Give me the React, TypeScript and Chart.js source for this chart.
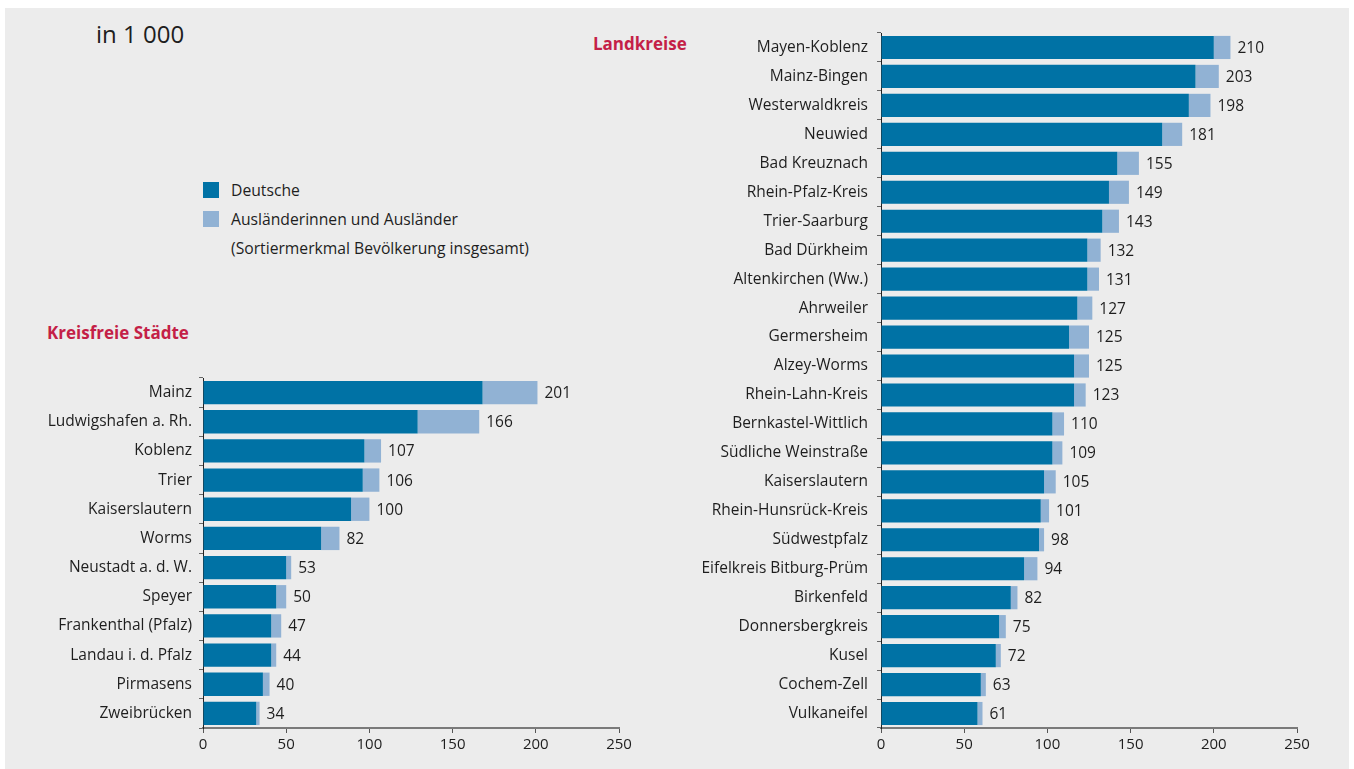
import React, { useEffect, useRef } from "react";
import { Chart, registerables } from "chart.js";

Chart.register(...registerables);

const staedte = [
  "Mainz", "Ludwigshafen a. Rh.", "Koblenz", "Trier", "Kaiserslautern", "Worms",
  "Neustadt a. d. W.", "Speyer", "Frankenthal (Pfalz)", "Landau i. d. Pfalz", "Pirmasens", "Zweibrücken",
];
const staedteDeutsche = [168, 129, 97, 96, 89, 71, 50, 44, 41, 41, 36, 32];
const staedteAuslaender = [33, 37, 10, 10, 11, 11, 3, 6, 6, 3, 4, 2];
const staedteTotal = [201, 166, 107, 106, 100, 82, 53, 50, 47, 44, 40, 34];

const landkreise = [
  "Mayen-Koblenz", "Mainz-Bingen", "Westerwaldkreis", "Neuwied", "Bad Kreuznach", "Rhein-Pfalz-Kreis",
  "Trier-Saarburg", "Bad Dürkheim", "Altenkirchen (Ww.)", "Ahrweiler", "Germersheim", "Alzey-Worms",
  "Rhein-Lahn-Kreis", "Bernkastel-Wittlich", "Südliche Weinstraße", "Kaiserslautern", "Rhein-Hunsrück-Kreis",
  "Südwestpfalz", "Eifelkreis Bitburg-Prüm", "Birkenfeld", "Donnersbergkreis", "Kusel", "Cochem-Zell", "Vulkaneifel",
];
const landDeutsche = [200, 189, 185, 169, 142, 137, 133, 124, 124, 118, 113, 116, 116, 103, 103, 98, 96, 95, 86, 78, 71, 69, 60, 58];
const landAuslaender = [10, 14, 13, 12, 13, 12, 10, 8, 7, 9, 12, 9, 7, 7, 6, 7, 5, 3, 8, 4, 4, 3, 3, 3];
const landTotal = [210, 203, 198, 181, 155, 149, 143, 132, 131, 127, 125, 125, 123, 110, 109, 105, 101, 98, 94, 82, 75, 72, 63, 61];

const xTicks = [0, 50, 100, 150, 200, 250];

const DARK = "#0072a5";
const LIGHT = "#91b2d4";
const BG = "#ececec";
const TEXT = "#1e1e1e";
const RED = "#c41f47";
const FONT = "'Open Sans', sans-serif";

type PanelProps = {
  labels: string[];
  deutsche: number[];
  auslaender: number[];
  totals: number[];
  left: number;
  top: number;
  width: number;
  height: number;
  yWidth: number;
  padTop: number;
  padRight: number;
  labelPad: number;
};

function Panel(p: PanelProps) {
  const ref = useRef<HTMLCanvasElement | null>(null);
  useEffect(() => {
    if (!ref.current) return;
    const totalsPlugin = {
      id: "totals",
      afterDatasetsDraw(chart: any) {
        const ctx = chart.ctx;
        const meta = chart.getDatasetMeta(1);
        ctx.save();
        ctx.font = `15.5px ${FONT}`;
        ctx.fillStyle = TEXT;
        ctx.textAlign = "left";
        ctx.textBaseline = "middle";
        meta.data.forEach((el: any, i: number) => {
          ctx.fillText(String(p.totals[i]), el.x + 7, el.y + 1);
        });
        ctx.restore();
      },
    };
    const chart = new Chart(ref.current, {
      type: "bar",
      data: {
        labels: p.labels,
        datasets: [
          {
            label: "Deutsche",
            data: p.deutsche,
            backgroundColor: DARK,
            barPercentage: 0.8,
            categoryPercentage: 1,
          },
          {
            label: "Ausländerinnen und Ausländer",
            data: p.auslaender,
            backgroundColor: LIGHT,
            barPercentage: 0.8,
            categoryPercentage: 1,
          },
        ],
      },
      options: {
        indexAxis: "y",
        responsive: false,
        animation: false,
        layout: { padding: { top: p.padTop, right: p.padRight, left: 0, bottom: 0 } },
        plugins: { legend: { display: false }, tooltip: { enabled: false } },
        scales: {
          x: {
            stacked: true,
            min: xTicks[0],
            max: xTicks[xTicks.length - 1],
            afterBuildTicks: (s: any) => {
              s.ticks = xTicks.map((v) => ({ value: v }));
            },
            afterFit: (s: any) => {
              s.height = 41;
              s.paddingLeft = 0;
              s.paddingRight = 0;
            },
            ticks: { color: TEXT, font: { family: FONT, size: 15 }, padding: 3, maxRotation: 0 },
            grid: { drawOnChartArea: false, drawTicks: true, tickLength: 5, color: "#555" },
            border: { color: "#7a7a7a", width: 2 },
          },
          y: {
            stacked: true,
            afterFit: (s: any) => {
              s.width = p.yWidth;
              s.paddingTop = 0;
              s.paddingBottom = 0;
            },
            ticks: { color: TEXT, font: { family: FONT, size: 15.5 }, padding: p.labelPad, autoSkip: false },
            grid: { drawOnChartArea: false, drawTicks: true, tickLength: 4, color: "#666", offset: true },
            border: { color: "#222", width: 1 },
          },
        },
      },
      plugins: [totalsPlugin],
    } as any);
    return () => chart.destroy();
  }, []);
  return (
    <canvas
      ref={ref}
      width={p.width}
      height={p.height}
      style={{ position: "absolute", left: p.left, top: p.top, width: p.width, height: p.height }}
    />
  );
}

export default function App() {
  const text: React.CSSProperties = { position: "absolute", fontFamily: FONT, color: TEXT, whiteSpace: "nowrap" };
  return (
    <div style={{ position: "absolute", left: 0, top: 0, width: 1354, height: 769, overflow: "hidden" }}>
      <div style={{ position: "absolute", left: 5, top: 8, width: 1344, height: 761, background: BG }} />
      <div style={{ ...text, left: 96, top: 18, fontSize: 24, lineHeight: "32px" }}>in 1 000</div>
      <div style={{ ...text, left: 593, top: 32, fontSize: 17, fontWeight: 700, color: RED, lineHeight: "24px" }}>
        Landkreise
      </div>
      <div style={{ ...text, left: 47, top: 321, fontSize: 17, fontWeight: 700, color: RED, lineHeight: "24px" }}>
        Kreisfreie Städte
      </div>
      <div style={{ position: "absolute", left: 203, top: 182, width: 16, height: 16, background: DARK }} />
      <div style={{ position: "absolute", left: 203, top: 211, width: 16, height: 16, background: LIGHT }} />
      <div style={{ ...text, left: 231, top: 179, fontSize: 15.7, lineHeight: "22px" }}>Deutsche</div>
      <div style={{ ...text, left: 231, top: 208, fontSize: 15.7, lineHeight: "22px" }}>Ausländerinnen und Ausländer</div>
      <div style={{ ...text, left: 231, top: 237, fontSize: 15.7, lineHeight: "22px" }}>
        (Sortiermerkmal Bevölkerung insgesamt)
      </div>
      <Panel
        labels={staedte}
        deutsche={staedteDeutsche}
        auslaender={staedteAuslaender}
        totals={staedteTotal}
        left={0}
        top={370}
        width={680}
        height={399}
        yWidth={203}
        padTop={8}
        padRight={61}
        labelPad={7}
      />
      <Panel
        labels={landkreise}
        deutsche={landDeutsche}
        auslaender={landAuslaender}
        totals={landTotal}
        left={680}
        top={20}
        width={674}
        height={749}
        yWidth={201}
        padTop={13}
        padRight={57}
        labelPad={9}
      />
    </div>
  );
}
